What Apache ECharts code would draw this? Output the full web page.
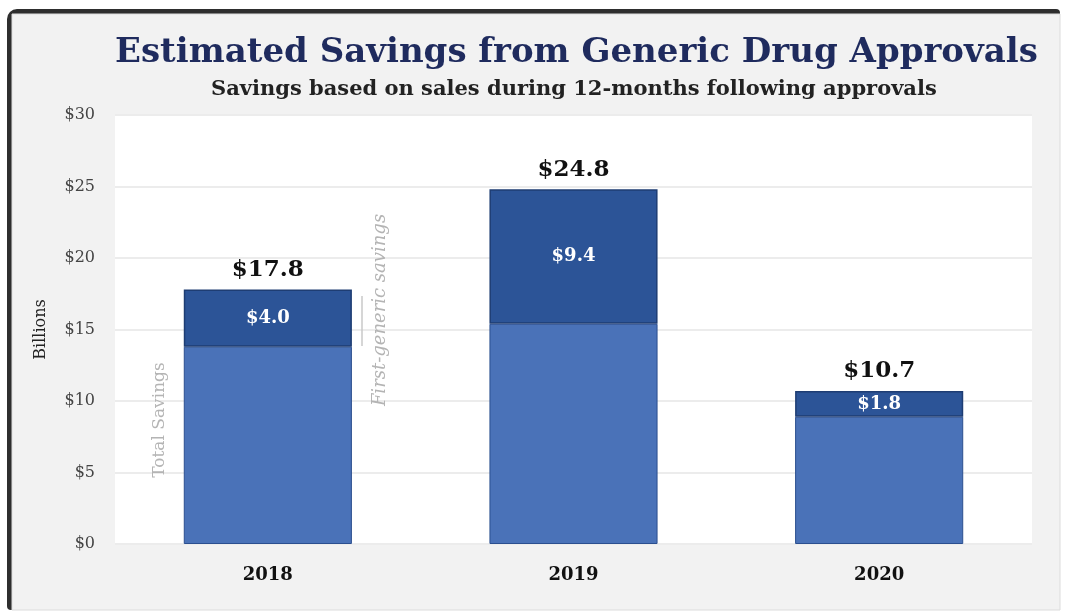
<!DOCTYPE html>
<html>
<head>
<meta charset="utf-8">
<script src="https://cdn.jsdelivr.net/npm/echarts@6/dist/echarts.min.js"></script>
<style>
  html, body { margin: 0; padding: 0; background: #ffffff; }
  #chart { width: 1065px; height: 614px; }
</style>
</head>
<body>
<div id="chart"></div>
<script>
// Generic drug approval savings, in billions of dollars
const years = ['2018', '2019', '2020'];
const otherSavings = [13.8, 15.4, 8.9];       // remaining part of total savings
const firstGenericSavings = [4.0, 9.4, 1.8];  // first-generic savings (top segment)
const yTicks = [0, 5, 10, 15, 20, 25, 30];

const totals = years.map((_, i) => +(otherSavings[i] + firstGenericSavings[i]).toFixed(1));

const serif = '"DejaVu Serif", "Liberation Serif", serif';

const chart = echarts.init(document.getElementById('chart'), null, { renderer: 'canvas' });

chart.setOption({
  animation: false,
  backgroundColor: '#ffffff',
  title: [
    {
      text: 'Estimated Savings from Generic Drug Approvals',
      left: 110,
      top: 31,
      textStyle: { fontFamily: serif, fontWeight: 'bold', fontSize: 34, color: '#1f2b5e' }
    },
    {
      text: 'Savings based on sales during 12-months following approvals',
      left: 206,
      top: 74,
      textStyle: { fontFamily: serif, fontWeight: 'bold', fontSize: 21, color: '#222222' }
    }
  ],
  graphic: [
    { type: 'rect', z: -10, shape: { x: 7, y: 9, width: 1053, height: 601, r: [10, 4, 4, 4] }, style: { fill: '#2e2e2e' } },
    { type: 'rect', z: -9, shape: { x: 12, y: 14, width: 1048, height: 596 }, style: { fill: '#f2f2f2', stroke: '#dcdcdc', lineWidth: 1 } },
    {
      type: 'text', z: 10, x: 160, y: 420, rotation: Math.PI / 2,
      style: { text: 'Total Savings', fontFamily: serif, fontSize: 17, fill: '#b4b4b4', align: 'center', verticalAlign: 'middle' }
    },
    {
      type: 'text', z: 10, x: 380, y: 310, rotation: Math.PI / 2,
      style: { text: 'First-generic savings', fontFamily: serif, fontStyle: 'italic', fontSize: 18, fill: '#b4b4b4', align: 'center', verticalAlign: 'middle' }
    },
    { type: 'line', z: 10, shape: { x1: 362, y1: 296, x2: 362, y2: 346 }, style: { stroke: '#c8c8c8', lineWidth: 1.5 } }
  ],
  grid: {
    left: 115, right: 33, top: 115, bottom: 70,
    show: true, backgroundColor: '#ffffff', borderWidth: 0
  },
  xAxis: {
    type: 'category',
    data: years,
    axisLine: { show: false },
    axisTick: { show: false },
    axisLabel: { fontFamily: serif, fontWeight: 'bold', fontSize: 18, color: '#111111', margin: 22 }
  },
  yAxis: {
    type: 'value',
    min: 0, max: 30, interval: 5,
    name: 'Billions',
    nameLocation: 'middle',
    nameGap: 66,
    nameTextStyle: { fontFamily: serif, fontSize: 16, color: '#222222' },
    axisLine: { show: false },
    axisTick: { show: false },
    splitLine: { lineStyle: { color: '#ececec', width: 2 } },
    axisLabel: {
      fontFamily: serif, fontSize: 16, color: '#444444', margin: 20,
      formatter: v => yTicks.includes(v) ? '$' + v : ''
    }
  },
  series: [
    {
      name: 'Other savings',
      type: 'bar',
      stack: 'total',
      barWidth: '55%',
      data: otherSavings,
      itemStyle: { color: '#4a72b8', borderColor: '#2b4f8f', borderWidth: 1 }
    },
    {
      name: 'First-generic savings',
      type: 'bar',
      stack: 'total',
      barWidth: '55%',
      data: firstGenericSavings,
      itemStyle: { color: '#2c5497', borderColor: '#1e3d73', borderWidth: 1.5 },
      label: {
        show: true,
        position: 'inside',
        formatter: p => '$' + p.value.toFixed(1),
        fontFamily: serif, fontWeight: 'bold', fontSize: 18, color: '#ffffff'
      }
    },
    {
      // invisible carrier for the total labels above each stack
      name: 'Total',
      type: 'bar',
      stack: 'total',
      barWidth: '55%',
      data: totals.map(() => 0),
      itemStyle: { color: 'transparent' },
      label: {
        show: true,
        position: 'top',
        distance: 8,
        formatter: p => '$' + totals[p.dataIndex].toFixed(1),
        fontFamily: serif, fontWeight: 'bold', fontSize: 23, color: '#111111'
      }
    }
  ]
});
</script>
</body>
</html>
